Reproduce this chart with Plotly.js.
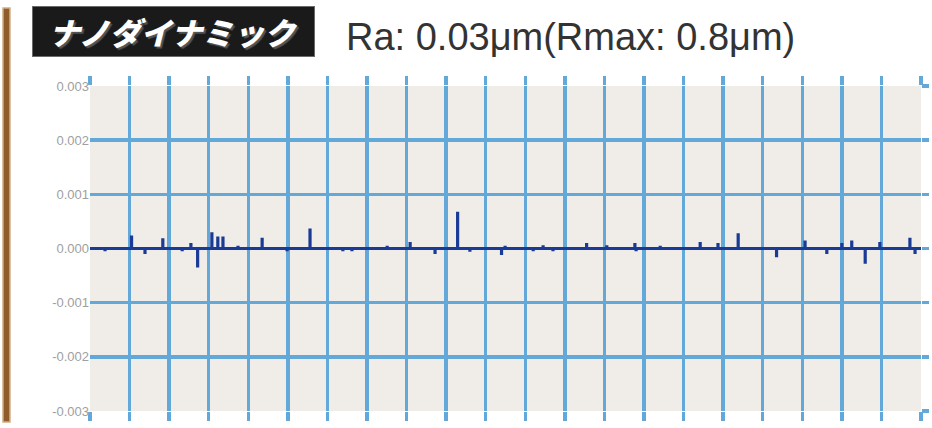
<!DOCTYPE html>
<html>
<head>
<meta charset="utf-8">
<script src="https://cdn.plot.ly/plotly-3.0.1.min.js"></script>
<style>
  html, body { margin: 0; padding: 0; background: #fff; }
  #chart { width: 932px; height: 428px; }
</style>
</head>
<body>
<div id="chart"></div>
<script>
// 表面粗さプロファイル（ナノダイナミック）
const spikeX = [0.38, 1.05, 1.39, 1.84, 2.33, 2.55, 2.72, 3.08, 3.23, 3.36, 3.74, 4.35, 4.98, 5.56,
                6.39, 6.62, 7.51, 8.09, 8.72, 9.29, 9.60, 10.40, 10.49, 11.20, 11.45, 11.70, 12.55,
                13.06, 13.77, 13.80, 14.41, 15.42, 15.87, 16.38, 17.35, 18.07, 18.62, 19.00, 19.25,
                19.59, 19.96, 20.72, 20.85];
const spikeY = [-0.00005, 0.00024, -0.0001, 0.00019, -0.00005, 0.0001, -0.00035, 0.0003, 0.00022,
                0.00022, 0.00005, 0.0002, -0.00005, 0.00037, -0.00005, -0.00005, 0.00005, 0.00012,
                -0.0001, 0.00068, -0.00006, -0.00012, 0.00005, -0.00005, 0.00006, -0.00005, 0.0001,
                0.00006, 0.0001, -0.00005, 0.00005, 0.00012, 0.0001, 0.00028, -0.00016, 0.00015,
                -0.0001, 0.0001, 0.00015, -0.00028, 0.00012, 0.0002, -0.0001];
const xStart = 0, xEnd = 21;
const yTickVals = [0.003, 0.002, 0.001, 0, -0.001, -0.002, -0.003];
const yTickText = ['0.003', '0.002', '0.001', '0.000', '-0.001', '-0.002', '-0.003'];
const titleLabel = 'ナノダイナミック';
const subLabel = 'Ra: 0.03μm(Rmax: 0.8μm)';

const gridBlue = '#62a8d8';

// ベースライン上にスパイクを立てる
const px = [xStart], py = [0];
spikeX.forEach((x, i) => {
    px.push(x, x, x);
    py.push(0, spikeY[i], 0);
});
px.push(xEnd);
py.push(0);

const data = [
    {
        x: px, y: py,
        type: 'scatter', mode: 'lines',
        line: { color: '#1a3b95', width: 3.2 },
        hoverinfo: 'skip', showlegend: false
    },
    {
        x: [null], y: [null], yaxis: 'y2',
        type: 'scatter', mode: 'lines',
        hoverinfo: 'skip', showlegend: false
    }
];

const layout = {
    width: 932, height: 428,
    margin: { l: 90, r: 11, t: 86, b: 17 },
    paper_bgcolor: '#ffffff',
    plot_bgcolor: '#f0ede8',
    showlegend: false,
    xaxis: {
        range: [xStart, xEnd], dtick: 1, tick0: 0,
        showgrid: true, gridcolor: gridBlue, gridwidth: 3.5,
        zeroline: false, showline: false,
        ticks: 'outside', ticklen: 9, tickwidth: 3.5, tickcolor: gridBlue,
        mirror: 'ticks', showticklabels: false, fixedrange: true
    },
    yaxis: {
        range: [-0.003, 0.003],
        tickvals: yTickVals, ticktext: yTickText,
        showgrid: true, gridcolor: gridBlue, gridwidth: 3.5,
        zeroline: false, showline: false, ticks: '',
        tickfont: { family: 'Liberation Sans, Arial, sans-serif', size: 13, color: '#a0a0a0' },
        fixedrange: true
    },
    yaxis2: {
        overlaying: 'y', side: 'right',
        range: [-0.003, 0.003], tickvals: yTickVals,
        showgrid: false, zeroline: false, showline: false,
        ticks: 'outside', ticklen: 7, tickwidth: 3.5, tickcolor: gridBlue,
        showticklabels: false, fixedrange: true
    },
    shapes: [
        // 左の茶色い縦帯
        {
            type: 'rect', xref: 'paper', yref: 'paper',
            x0: -0.1047, x1: -0.0963, y0: -0.034, y1: 1.24,
            fillcolor: '#8f5d2c', line: { color: '#d2ad85', width: 1.5 }
        }
    ],
    annotations: [
        {
            text: titleLabel, xref: 'paper', yref: 'paper',
            x: -0.0698, y: 1.1677, xanchor: 'left', yanchor: 'middle',
            width: 277, height: 45, align: 'center', valign: 'middle',
            bgcolor: '#1a1a1a', bordercolor: '#6a6a6a', borderwidth: 1, borderpad: 2,
            showarrow: false,
            font: {
                family: 'Noto Sans CJK JP, sans-serif', size: 31, color: '#ffffff',
                weight: 900, style: 'italic', shadow: '2px 2px 1px #555'
            }
        },
        {
            text: subLabel, xref: 'paper', yref: 'paper',
            x: 0.3057, y: 1.1508, xanchor: 'left', yanchor: 'middle',
            showarrow: false,
            font: { family: 'Liberation Sans, Arial, sans-serif', size: 38, color: '#333333' }
        }
    ]
};

Plotly.newPlot('chart', data, layout, { staticPlot: true, displayModeBar: false });
</script>
</body>
</html>
